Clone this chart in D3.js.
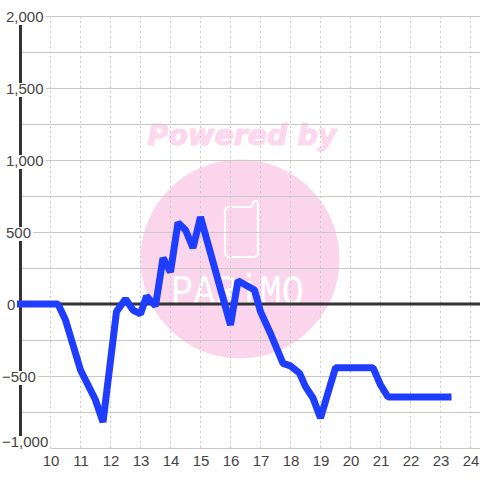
<!DOCTYPE html>
<html><head><meta charset="utf-8">
<style>html,body{margin:0;padding:0;background:#fff}svg{display:block}text{font-family:"Liberation Sans",Arial,sans-serif}</style>
<script src="https://cdn.jsdelivr.net/npm/d3@7/dist/d3.min.js"></script>
</head><body><svg id="c" width="480" height="480"></svg>
<script>
const hours=[9,10.25,10.5,10.7,11,11.5,11.75,12.2,12.5,12.75,13,13.2,13.5,13.75,14,14.25,14.5,14.75,15,16,16.25,16.8,17,17.33,17.75,18,18.3,18.5,18.75,19,19.5,20.75,21,21.25,23.25];
const values=[0,0,-111,-250,-458,-667,-820,-53,35,-42,-69,55,-14,320,222,565,514,389,604,-146,162,97,-53,-203,-412,-430,-480,-574,-653,-792,-442,-442,-562,-646,-646];
const majorTicks=[2000,1500,1000,500,0,-500,-1000];
const minorTicks=[1750,1250,750,250,-250,-750];
const hourTicks=[10,11,12,13,14,15,16,17,18,19,20,21,22,23,24];
const wmTop="Powered by", wmBrand="PARiMO";

const svg=d3.select("#c");
const x=d3.scaleLinear().domain([9,25]).range([20.5,500.5]);
const y=d3.scaleLinear().domain([-1000,2000]).range([448,16]);
const GRID="#c8c8c8", DARK="#333", PINK="#fbd5ec", PINK2="#fcd8ee";

// watermark
const wm=svg.append("g");
wm.append("circle").attr("cx",240).attr("cy",259).attr("r",99.5).attr("fill",PINK);
wm.append("text").attr("x",242).attr("y",145).attr("text-anchor","middle")
  .style("font-family","'DejaVu Sans'").style("font-weight",700).style("font-style","italic")
  .style("font-size","28.5px").attr("fill",PINK2).attr("stroke",PINK2).attr("stroke-width",1.2).text(wmTop);
wm.append("path").attr("d","M230 207H250Q252 207 252.500 205Q253 201 256 201Q258 201 258 204V252Q258 257 253 257H230Q225 257 225 252V212Q225 207 230 207Z")
  .attr("fill","none").attr("stroke","#fff").attr("stroke-width",2.2);
wm.append("text").attr("transform","translate(171,305) scale(0.82,1)")
  .style("font-family","'Liberation Mono'").style("font-size","45px")
  .attr("fill","#fff").text(wmBrand);

// grid
svg.append("g").selectAll("line").data(hourTicks).join("line")
  .attr("x1",d=>x(d)).attr("x2",d=>x(d)).attr("y1",16).attr("y2",448)
  .attr("stroke",GRID).attr("stroke-dasharray","2,3");
svg.append("g").selectAll("line").data(majorTicks.concat(minorTicks).filter(d=>d!==0)).join("line")
  .attr("x1",20).attr("x2",480).attr("y1",d=>y(d)+0.5).attr("y2",d=>y(d)+0.5)
  .attr("stroke",GRID).attr("stroke-width",1);
svg.append("line").attr("x1",20).attr("x2",480).attr("y1",y(0)).attr("y2",y(0)).attr("stroke",DARK).attr("stroke-width",3);
svg.append("line").attr("x1",20.500).attr("x2",20.500).attr("y1",16).attr("y2",448).attr("stroke",DARK).attr("stroke-width",3);

// y labels with white backing
const fmt=d3.format(",");
const base=d=>d===-1000?y(d)-1:y(d)+6;
const yl=svg.append("g").selectAll("g").data(majorTicks).join("g");
yl.append("text").attr("x",d=>d<0?2:(d===0?7:6)).attr("y",base)
  .attr("fill","#444").style("font-size","15px").text(d=>fmt(d))
  .each(function(d){
    const b=this.getBBox();
    d3.select(this.parentNode).insert("rect","text").attr("x",b.x-2).attr("y",base(d)-11).attr("width",b.width+4).attr("height",14).attr("fill","#fff");
  });

// x labels
const xa=svg.append("g").attr("transform","translate(0,448)")
  .call(d3.axisBottom(x).tickValues(hourTicks).tickSize(0).tickPadding(7).tickFormat(d3.format("d")));
xa.select(".domain").remove();
xa.selectAll("text").attr("fill","#444").style("font-size","15px").style("font-family","'Liberation Sans'");

// series
svg.append("path").datum(hours.map((h,i)=>[h,values[i]]))
  .attr("d",d3.line().x(d=>x(d[0])).y(d=>y(d[1])))
  .attr("fill","none").attr("stroke","#1f3dff").attr("stroke-width",7)
  .attr("stroke-linecap","square").attr("stroke-linejoin","bevel");
</script></body></html>
